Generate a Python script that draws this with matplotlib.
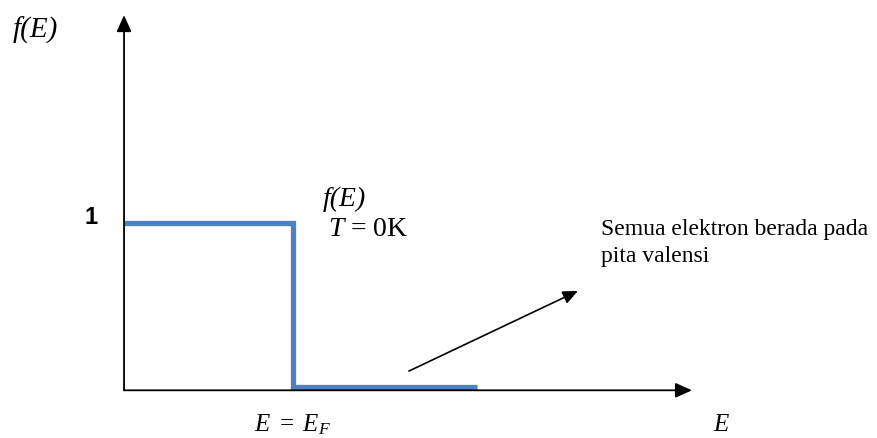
import matplotlib
matplotlib.use('Agg')
import matplotlib.pyplot as plt

# Fermi-Dirac distribution at T = 0 K (step at E = E_F)
E = [0, 1, 1, 2.09]
fE = [1, 1, 0, 0]

plt.rcParams['mathtext.fontset'] = 'custom'
plt.rcParams['mathtext.rm'] = 'Liberation Serif'
plt.rcParams['mathtext.it'] = 'Liberation Serif:italic'
plt.rcParams['font.family'] = 'Liberation Serif'

fig = plt.figure(figsize=(8.77, 4.38), dpi=100)
ax = fig.add_axes([0, 0, 1, 1])
ax.set_xlim(-0.734, 4.456)
ax.set_ylim(-0.31, 2.353)
ax.axis('off')

# axes with arrows
head = dict(arrowstyle='-|>,head_length=1.0,head_width=0.45', color='black', lw=1.3,
            shrinkA=0, shrinkB=0)
ax.annotate('', xy=(3.361, -0.02), xytext=(0, -0.02), arrowprops=head)
ax.annotate('', xy=(0, 2.261), xytext=(0, -0.02), arrowprops=head)

ax.plot(E, fE, color='#4f81bd', lw=3.8, solid_joinstyle='miter', solid_capstyle='butt')

# pointer arrow
ax.annotate('', xy=(2.686, 0.584), xytext=(1.686, 0.097),
            arrowprops=dict(arrowstyle='-|>,head_length=0.9,head_width=0.4', color='black',
                            lw=1.2, shrinkA=0, shrinkB=0))

ax.text(-0.657, 2.17, 'f(E)', fontsize=21, style='italic', va='center', ha='left')
ax.text(-0.195, 1.033, '1', fontsize=17, fontweight='bold', family='Liberation Sans',
        va='center', ha='center')
ax.text(1.178, 1.143, 'f(E)', fontsize=20, style='italic', va='center', ha='left')
ax.text(1.207, 0.96, r'$T$ = 0K', fontsize=20, va='center', ha='left')
ax.text(2.822, 0.924, 'Semua elektron berada pada', fontsize=17, va='baseline', ha='left')
ax.text(2.822, 0.760, 'pita valensi', fontsize=17, va='baseline', ha='left')
ax.text(1.0, -0.231, r'$E\ =\ E_F$', fontsize=18, va='center', ha='center')
ax.text(3.485, -0.231, r'$E$', fontsize=18, va='center', ha='left')

fig.savefig('out.png', dpi=100)
